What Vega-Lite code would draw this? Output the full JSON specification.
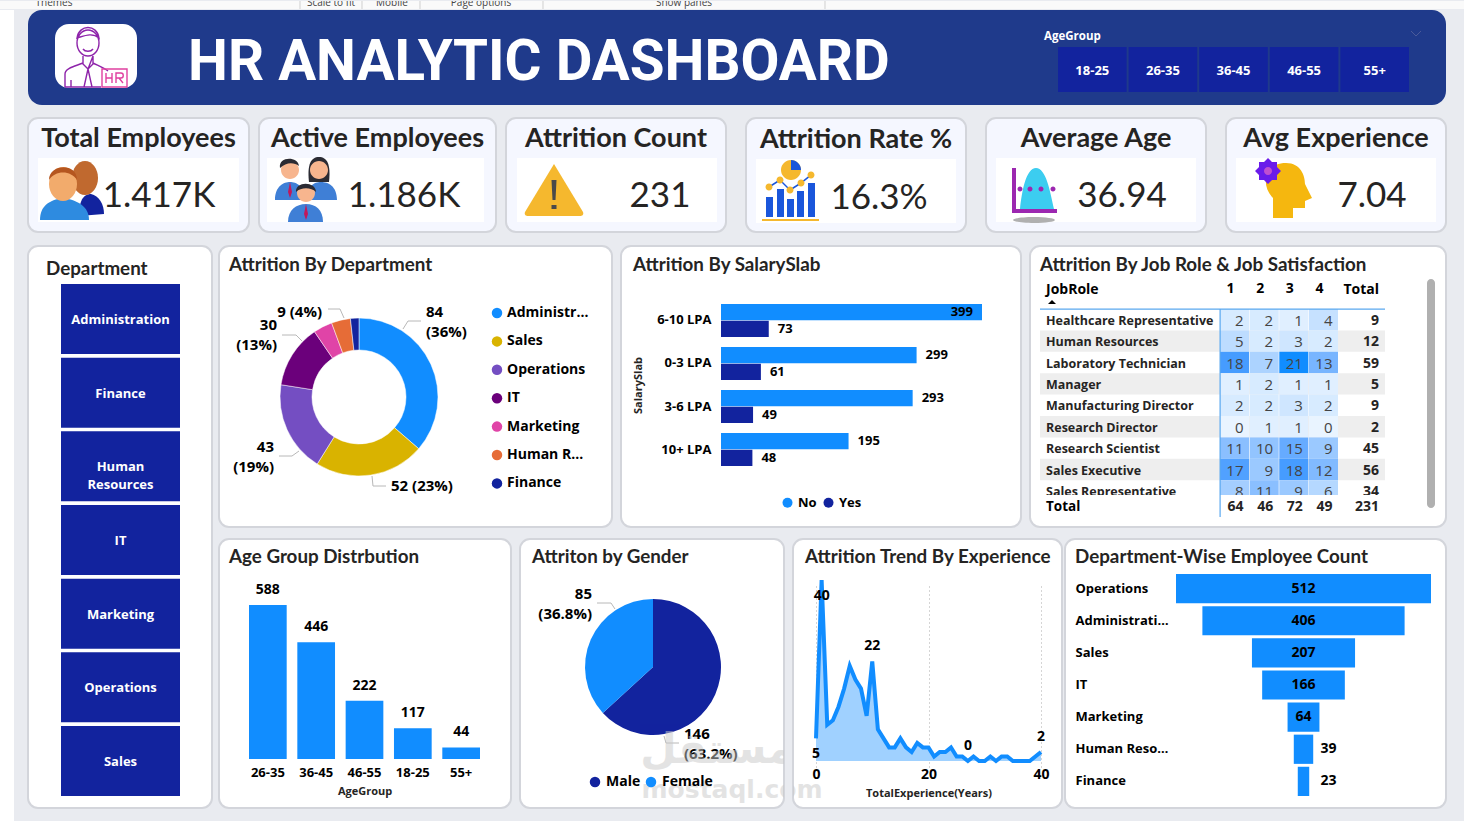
{
"$schema":"https://vega.github.io/schema/vega-lite/v6.json",
"padding":0,
"background":"#e9ebf0",
"config":{
 "view":{"stroke":null},
 "title":{"font":"Lato","fontWeight":"bold","fontSize":18.8,"color":"#252423","anchor":"start","frame":"group"},
 "axis":{"labelFont":"Open Sans","labelFontWeight":"bold","labelColor":"#000000","labelFontSize":13,"ticks":false,"domain":false,"grid":false,"titleFont":"Open Sans","titleFontWeight":"bold","titleFontSize":11,"titleColor":"#252423"},
 "legend":{"labelFont":"Open Sans","labelFontWeight":"bold","labelColor":"#000000","labelFontSize":14,"symbolType":"circle","symbolSize":110,"symbolStrokeWidth":0,"title":null},
 "text":{"font":"Open Sans","fontWeight":"bold","fontSize":14,"color":"#000000"}
},
"datasets":{
 "attrition":[
  {"chart":"donut","department":"Administration","count":84,"rank":1,"label":"84\n(36%)"},
  {"chart":"donut","department":"Sales","count":52,"rank":2,"label":"52 (23%)"},
  {"chart":"donut","department":"Operations","count":43,"rank":3,"label":"43\n(19%)"},
  {"chart":"donut","department":"IT","count":30,"rank":4,"label":"30\n(13%)"},
  {"chart":"donut","department":"Marketing","count":9,"rank":5},
  {"chart":"donut","department":"Human Resources","count":9,"rank":6,"label":"9 (4%)"},
  {"chart":"donut","department":"Finance","count":4,"rank":7}
 ],
 "salary":[
  {"slab":"6-10 LPA","attrition":"No","count":399},{"slab":"6-10 LPA","attrition":"Yes","count":73},
  {"slab":"0-3 LPA","attrition":"No","count":299},{"slab":"0-3 LPA","attrition":"Yes","count":61},
  {"slab":"3-6 LPA","attrition":"No","count":293},{"slab":"3-6 LPA","attrition":"Yes","count":49},
  {"slab":"10+ LPA","attrition":"No","count":195},{"slab":"10+ LPA","attrition":"Yes","count":48}
 ],
 "cells":[
  {"role":"Healthcare Representative","sat":"1","count":2},{"role":"Healthcare Representative","sat":"2","count":2},{"role":"Healthcare Representative","sat":"3","count":1},{"role":"Healthcare Representative","sat":"4","count":4},
  {"role":"Human Resources","sat":"1","count":5},{"role":"Human Resources","sat":"2","count":2},{"role":"Human Resources","sat":"3","count":3},{"role":"Human Resources","sat":"4","count":2},
  {"role":"Laboratory Technician","sat":"1","count":18},{"role":"Laboratory Technician","sat":"2","count":7},{"role":"Laboratory Technician","sat":"3","count":21},{"role":"Laboratory Technician","sat":"4","count":13},
  {"role":"Manager","sat":"1","count":1},{"role":"Manager","sat":"2","count":2},{"role":"Manager","sat":"3","count":1},{"role":"Manager","sat":"4","count":1},
  {"role":"Manufacturing Director","sat":"1","count":2},{"role":"Manufacturing Director","sat":"2","count":2},{"role":"Manufacturing Director","sat":"3","count":3},{"role":"Manufacturing Director","sat":"4","count":2},
  {"role":"Research Director","sat":"1","count":0},{"role":"Research Director","sat":"2","count":1},{"role":"Research Director","sat":"3","count":1},{"role":"Research Director","sat":"4","count":0},
  {"role":"Research Scientist","sat":"1","count":11},{"role":"Research Scientist","sat":"2","count":10},{"role":"Research Scientist","sat":"3","count":15},{"role":"Research Scientist","sat":"4","count":9},
  {"role":"Sales Executive","sat":"1","count":17},{"role":"Sales Executive","sat":"2","count":9},{"role":"Sales Executive","sat":"3","count":18},{"role":"Sales Executive","sat":"4","count":12},
  {"role":"Sales Representative","sat":"1","count":8},{"role":"Sales Representative","sat":"2","count":11},{"role":"Sales Representative","sat":"3","count":9},{"role":"Sales Representative","sat":"4","count":6}
 ],
 "roles":[
  {"role":"Healthcare Representative","total":9,"shaded":false},{"role":"Human Resources","total":12,"shaded":true},{"role":"Laboratory Technician","total":59,"shaded":false},
  {"role":"Manager","total":5,"shaded":true},{"role":"Manufacturing Director","total":9,"shaded":false},{"role":"Research Director","total":2,"shaded":true},
  {"role":"Research Scientist","total":45,"shaded":false},{"role":"Sales Executive","total":56,"shaded":true},{"role":"Sales Representative","total":34,"shaded":false}
 ],
 "ageGroups":[{"slicer":"AgeGroup","age":"18-25"},{"slicer":"AgeGroup","age":"26-35"},{"slicer":"AgeGroup","age":"36-45"},{"slicer":"AgeGroup","age":"46-55"},{"slicer":"AgeGroup","age":"55+"}],
 "watermark":[{"wm":"مستقل"},{"wm":"mostaql.com"}],
 "experience":[
  {"year":0,"count":5},{"year":1,"count":40},{"year":2,"count":8},{"year":3,"count":9},{"year":4,"count":12},{"year":5,"count":16},{"year":6,"count":21},{"year":7,"count":18},{"year":8,"count":16},{"year":9,"count":10},{"year":10,"count":22},
  {"year":11,"count":7},{"year":12,"count":5},{"year":13,"count":3},{"year":14,"count":3},{"year":15,"count":5},{"year":16,"count":3},{"year":17,"count":2},{"year":18,"count":4},{"year":19,"count":3},{"year":20,"count":3},
  {"year":21,"count":1},{"year":22,"count":2},{"year":23,"count":2},{"year":24,"count":3},{"year":25,"count":1},{"year":26,"count":1},{"year":27,"count":0},{"year":28,"count":1},{"year":29,"count":0},{"year":30,"count":0},
  {"year":31,"count":1},{"year":32,"count":0},{"year":33,"count":1},{"year":34,"count":1},{"year":35,"count":0},{"year":36,"count":0},{"year":37,"count":0},{"year":38,"count":0},{"year":39,"count":1},{"year":40,"count":2}
 ]
},
"resolve":{"scale":{"color":"independent","shape":"independent"}},
"vconcat":[
 {"width":1464,"height":8,"view":{"fill":"#fafafa"},
  "data":{"values":[
   {"kind":"label","item":"Themes","slot":1},{"kind":"sep","slot":2},{"kind":"label","item":"Scale to fit","slot":3},{"kind":"sep","slot":4},{"kind":"label","item":"Mobile","slot":5},{"kind":"sep","slot":6},{"kind":"label","item":"Page options","slot":7},{"kind":"sep","slot":8},{"kind":"label","item":"Show panes","slot":9},{"kind":"sep","slot":10}]},
  "encoding":{"x":{"field":"slot","type":"quantitative","scale":{"domain":[1,2,3,4,5,6,7,8,9,10],"range":[54,300,331,362,392,420,481,543,684,825],"nice":false,"zero":false},"axis":null}},
  "layer":[
   {"transform":[{"filter":"datum.kind === 'sep'"}],"mark":{"type":"rule","color":"#cfcfcf"}},
   {"transform":[{"filter":"datum.kind === 'label'"}],"mark":{"type":"text","clip":true,"fontSize":10,"fontWeight":"normal","color":"#444444","baseline":"middle"},
    "encoding":{"text":{"field":"item"},"y":{"field":"kind","type":"nominal","scale":{"type":"point","range":[2,2]},"axis":null}}}
  ]
 },
 {"resolve":{"scale":{"color":"independent","shape":"independent"}},"hconcat":[
  {"width":14,"height":811,"view":{"fill":"#ffffff"},"data":{"values":[{"part":"margin"}]},"mark":{"type":"rect","color":"#ffffff"}},
  {"resolve":{"scale":{"color":"independent","shape":"independent"}},"vconcat":[
   {"width":1418,"height":95,"view":{"fill":"#1f3a8b","cornerRadius":14},
    "title":{"text":"HR ANALYTIC DASHBOARD","color":"#ffffff","font":"Roboto","fontSize":56.5,"dx":160,"offset":-81},
    "resolve":{"scale":{"x":"independent","y":"independent"}},
    "layer":[
     {"data":{"values":[{"part":"logo"}]},"mark":{"type":"rect","color":"#ffffff","cornerRadius":14},
      "encoding":{"x":{"field":"part","type":"nominal","scale":{"type":"band","range":[27,109],"paddingInner":0,"paddingOuter":0},"axis":null},"y":{"field":"part","type":"nominal","scale":{"type":"band","range":[14,78],"paddingInner":0,"paddingOuter":0},"axis":null}}},
     {"data":{"values":[{"part":"logo","piece":"person"},{"part":"logo","piece":"badge"}]},"mark":{"type":"point","filled":false,"size":4,"opacity":1,"strokeWidth":1.4},
      "encoding":{"x":{"field":"part","type":"nominal","scale":{"type":"band","range":[27,109],"paddingInner":0,"paddingOuter":0},"axis":null},"y":{"field":"part","type":"nominal","scale":{"type":"band","range":[14,78],"paddingInner":0,"paddingOuter":0},"axis":null},
       "shape":{"field":"piece","type":"nominal","legend":null,"scale":{"domain":["person","badge"],"range":["M-19,-13A11,13 0 1 1 3,-13A11,13 0 1 1 -19,-13ZM-19,-18C-17,-32 1,-32 3,-18C-4,-24 -12,-20 -19,-18ZM-13,-7C-11,-4 -5,-4 -3,-7M-13,0L-13,8L-8,13L-3,0M-3,0L-3,8L-8,13M-31,31L-31,18C-31,12 -20,10 -13,7M-3,7C3,10 8,12 12,15M-8,13L-12,31M-8,13L-4,31M-25,24L-25,31M-31,31L5,31","M6,13L31,13L31,31L6,31ZM10,17L10,27M10,22L16,22M16,17L16,27M20,27L20,17L25,17C28,17 28,22 25,22L20,22M23,22L27,27"]}},
       "color":{"field":"piece","type":"nominal","legend":null,"scale":{"domain":["person","badge"],"range":["#8e24aa","#e040a0"]}}}},
     {"data":{"name":"ageGroups"},"mark":{"type":"rect","color":"#12239e"},
      "encoding":{"x":{"field":"age","type":"nominal","scale":{"type":"band","range":[1030,1381],"paddingInner":0.028,"paddingOuter":0},"axis":null},"y":{"field":"slicer","type":"nominal","scale":{"type":"band","range":[37,82],"paddingInner":0,"paddingOuter":0},"axis":null}}},
     {"data":{"name":"ageGroups"},"mark":{"type":"text","color":"#ffffff","fontSize":13,"baseline":"middle","dy":1},
      "encoding":{"text":{"field":"age"},"x":{"field":"age","type":"nominal","scale":{"type":"band","range":[1030,1381],"paddingInner":0.028,"paddingOuter":0},"axis":null},"y":{"field":"slicer","type":"nominal","scale":{"type":"band","range":[37,82],"paddingInner":0,"paddingOuter":0},"axis":null}}},
     {"data":{"values":[{"name":"AgeGroup"}]},"mark":{"type":"text","color":"#ffffff","fontSize":11.5,"align":"left","baseline":"middle"},
      "encoding":{"text":{"field":"name"},"x":{"field":"name","type":"nominal","scale":{"type":"point","range":[1016,1016]},"axis":null},"y":{"field":"name","type":"nominal","scale":{"type":"point","range":[27,27]},"axis":null}}},
     {"data":{"values":[{"name":"dropdown"}]},"mark":{"type":"point","filled":false,"size":4,"opacity":1,"strokeWidth":1,"color":"#4a5a9a","shape":"M-5,-3L0,2L5,-3"},
      "encoding":{"x":{"field":"name","type":"nominal","scale":{"type":"point","range":[1388,1388]},"axis":null},"y":{"field":"name","type":"nominal","scale":{"type":"point","range":[24,24]},"axis":null}}}
    ]
   },
   {"resolve":{"scale":{"color":"independent","shape":"independent"}},"hconcat":[
    {"resolve":{"scale":{"color":"independent","shape":"independent"}},"hconcat":[
     {"width":221,"height":114,"view":{"fill":"#f5f7ff","stroke":"#d3d5db","strokeWidth":2,"cornerRadius":10},
      "title":{"text":"Total Employees","fontSize":27,"anchor":"middle","offset":-35},
      "resolve":{"scale":{"x":"independent","y":"independent"}},
      "layer":[
       {"data":{"values":[{"kpi":"Total Employees"}]},"mark":{"type":"rect","color":"#ffffff"},"encoding":{"x":{"field":"kpi","type":"nominal","scale":{"type":"band","range":[10,211],"paddingInner":0,"paddingOuter":0},"axis":null},"y":{"field":"kpi","type":"nominal","scale":{"type":"band","range":[40,104],"paddingInner":0,"paddingOuter":0},"axis":null}}},
       {"data":{"values":[{"icon":"people","part":"backBody"},{"icon":"people","part":"backHead"},{"icon":"people","part":"frontBody"},{"icon":"people","part":"frontHead"},{"icon":"people","part":"hair"}]},"mark":{"type":"point","filled":true,"size":4,"opacity":1,"strokeWidth":0},
        "encoding":{"x":{"field":"icon","type":"nominal","scale":{"type":"point","range":[43,43]},"axis":null},"y":{"field":"icon","type":"nominal","scale":{"type":"point","range":[72,72]},"axis":null},
         "shape":{"field":"part","type":"nominal","legend":null,"scale":{"domain":["backBody","backHead","frontBody","frontHead","hair"],"range":["M8,26C8,8 14,4 20,4C28,6 33,14 33,24Z","M1,-12A13,17 0 1 1 27,-12A13,17 0 1 1 1,-12Z","M-31,30C-31,16 -22,10 -8,8C6,10 18,16 18,30Z","M-22,-6A14,17 0 1 1 6,-6A14,17 0 1 1 -22,-6Z","M-22,-10C-22,-26 6,-28 6,-10C0,-20 -16,-20 -22,-10Z"]}},
         "color":{"field":"part","type":"nominal","legend":null,"scale":{"domain":["backBody","backHead","frontBody","frontHead","hair"],"range":["#12239e","#c0692f","#2e8be0","#f2ab6c","#b5561f"]}}}},
       {"data":{"values":[{"value":"1.417K"}]},"mark":{"type":"text","font":"Lato","fontWeight":"normal","fontSize":35,"color":"#252423","baseline":"middle"},"encoding":{"text":{"field":"value"},"x":{"field":"value","type":"nominal","scale":{"type":"point","range":[131,131]},"axis":null},"y":{"field":"value","type":"nominal","scale":{"type":"point","range":[78,78]},"axis":null}}}
      ]},
     {"width":237,"height":114,"view":{"fill":"#f5f7ff","stroke":"#d3d5db","strokeWidth":2,"cornerRadius":10},
      "title":{"text":"Active Employees","fontSize":27,"anchor":"middle","offset":-35},
      "resolve":{"scale":{"x":"independent","y":"independent"}},
      "layer":[
       {"data":{"values":[{"kpi":"Active Employees"}]},"mark":{"type":"rect","color":"#ffffff"},"encoding":{"x":{"field":"kpi","type":"nominal","scale":{"type":"band","range":[8,225],"paddingInner":0,"paddingOuter":0},"axis":null},"y":{"field":"kpi","type":"nominal","scale":{"type":"band","range":[40,104],"paddingInner":0,"paddingOuter":0},"axis":null}}},
       {"data":{"values":[{"icon":"team","part":"bodies"},{"icon":"team","part":"womanHair"},{"icon":"team","part":"faces"},{"icon":"team","part":"hair"},{"icon":"team","part":"frontBody"},{"icon":"team","part":"frontFace"},{"icon":"team","part":"frontHair"},{"icon":"team","part":"ties"}]},"mark":{"type":"point","filled":true,"size":4,"opacity":1,"strokeWidth":0},
        "encoding":{"x":{"field":"icon","type":"nominal","scale":{"type":"point","range":[47,47]},"axis":null},"y":{"field":"icon","type":"nominal","scale":{"type":"point","range":[72,72]},"axis":null},
         "shape":{"field":"part","type":"nominal","legend":null,"scale":{"domain":["bodies","womanHair","faces","hair","frontBody","frontFace","frontHair","ties"],"range":["M-31,10C-31,-4 -22,-8 -16,-8C-10,-8 -1,-4 -1,10ZM1,10C1,-4 8,-8 15,-8C22,-8 31,-4 31,10Z","M3,-8C1,-26 5,-33 13,-33C21,-33 25,-26 23,-8Z","M-25,-20A9,9 0 1 1 -7,-20A9,9 0 1 1 -25,-20ZM4,-20A9,9 0 1 1 22,-20A9,9 0 1 1 4,-20Z","M-26,-22C-28,-34 -8,-34 -7,-24C-12,-28 -20,-28 -26,-22Z","M-18,32C-18,20 -10,14 0,14C10,14 17,20 17,32Z","M-9,3A9,9 0 1 1 9,3A9,9 0 1 1 -9,3Z","M-10,2C-11,-9 10,-9 10,2C5,-3 -5,-3 -10,2Z","M-16,-8L-14,2L-16,8L-18,2ZM0,14L2,24L0,30L-2,24Z"]}},
         "color":{"field":"part","type":"nominal","legend":null,"scale":{"domain":["bodies","womanHair","faces","hair","frontBody","frontFace","frontHair","ties"],"range":["#3f7fd6","#2b2b33","#f7b58e","#2b2b33","#3f7fd6","#f7b58e","#2b2b33","#c2185b"]}}}},
       {"data":{"values":[{"value":"1.186K"}]},"mark":{"type":"text","font":"Lato","fontWeight":"normal","fontSize":35,"color":"#252423","baseline":"middle"},"encoding":{"text":{"field":"value"},"x":{"field":"value","type":"nominal","scale":{"type":"point","range":[145,145]},"axis":null},"y":{"field":"value","type":"nominal","scale":{"type":"point","range":[78,78]},"axis":null}}}
      ]},
     {"width":220,"height":114,"view":{"fill":"#f5f7ff","stroke":"#d3d5db","strokeWidth":2,"cornerRadius":10},
      "title":{"text":"Attrition Count","fontSize":27,"anchor":"middle","offset":-35},
      "resolve":{"scale":{"x":"independent","y":"independent"}},
      "layer":[
       {"data":{"values":[{"kpi":"Attrition Count"}]},"mark":{"type":"rect","color":"#ffffff"},"encoding":{"x":{"field":"kpi","type":"nominal","scale":{"type":"band","range":[11,211],"paddingInner":0,"paddingOuter":0},"axis":null},"y":{"field":"kpi","type":"nominal","scale":{"type":"band","range":[40,104],"paddingInner":0,"paddingOuter":0},"axis":null}}},
       {"data":{"values":[{"icon":"warning","part":"triangle"},{"icon":"warning","part":"bang"}]},"mark":{"type":"point","filled":true,"size":4,"opacity":1,"strokeWidth":0},
        "encoding":{"x":{"field":"icon","type":"nominal","scale":{"type":"point","range":[48,48]},"axis":null},"y":{"field":"icon","type":"nominal","scale":{"type":"point","range":[72,72]},"axis":null},
         "shape":{"field":"part","type":"nominal","legend":null,"scale":{"domain":["triangle","bang"],"range":["M0,-26L29,22C30,25 28,26 26,26L-26,26C-28,26 -30,25 -29,22Z","M-2.5,-10L2.5,-10L1.5,10L-1.5,10ZM-2.5,15L2.5,15L2.5,19L-2.5,19Z"]}},
         "color":{"field":"part","type":"nominal","legend":null,"scale":{"domain":["triangle","bang"],"range":["#f5b82e","#4a4a4a"]}}}},
       {"data":{"values":[{"value":"231"}]},"mark":{"type":"text","font":"Lato","fontWeight":"normal","fontSize":35,"color":"#252423","baseline":"middle"},"encoding":{"text":{"field":"value"},"x":{"field":"value","type":"nominal","scale":{"type":"point","range":[154,154]},"axis":null},"y":{"field":"value","type":"nominal","scale":{"type":"point","range":[78,78]},"axis":null}}}
      ]}
    ],"spacing":8},
    {"width":220,"height":114,"view":{"fill":"#f5f7ff","stroke":"#d3d5db","strokeWidth":2,"cornerRadius":10},
     "title":{"text":"Attrition Rate %","fontSize":27,"anchor":"middle","offset":-36},
     "resolve":{"scale":{"x":"independent","y":"independent"}},
     "layer":[
      {"data":{"values":[{"kpi":"Attrition Rate %"}]},"mark":{"type":"rect","color":"#ffffff"},"encoding":{"x":{"field":"kpi","type":"nominal","scale":{"type":"band","range":[10,210],"paddingInner":0,"paddingOuter":0},"axis":null},"y":{"field":"kpi","type":"nominal","scale":{"type":"band","range":[41,105],"paddingInner":0,"paddingOuter":0},"axis":null}}},
      {"data":{"values":[{"icon":"rate","part":"bars"},{"icon":"rate","part":"line"},{"icon":"rate","part":"gold"},{"icon":"rate","part":"slice"}]},"mark":{"type":"point","filled":true,"size":4,"opacity":1,"strokeWidth":0},
       "encoding":{"x":{"field":"icon","type":"nominal","scale":{"type":"point","range":[44,44]},"axis":null},"y":{"field":"icon","type":"nominal","scale":{"type":"point","range":[73,73]},"axis":null},
        "shape":{"field":"part","type":"nominal","legend":null,"scale":{"domain":["bars","line","gold","slice"],"range":["M-24,6L-17,6L-17,26L-24,26ZM-13,-2L-6,-2L-6,26L-13,26ZM-3,8L4,8L4,26L-3,26ZM7,0L14,0L14,26L7,26ZM18,-8L25,-8L25,26L18,26Z","M-21,-5L-10,-12L0,-2L11,-9L21,-17L21,-15L11,-7L0,0L-10,-10L-21,-3Z","M-28,28L29,28L29,30L-28,30ZM-9,-21A10,10 0 1 1 11,-21A10,10 0 1 1 -9,-21ZM-24.5,-4A3.5,3.5 0 1 1 -17.5,-4A3.5,3.5 0 1 1 -24.5,-4ZM-13.5,-11A3.5,3.5 0 1 1 -6.5,-11A3.5,3.5 0 1 1 -13.5,-11ZM-3.5,-1A3.5,3.5 0 1 1 3.5,-1A3.5,3.5 0 1 1 -3.5,-1ZM7.5,-8A3.5,3.5 0 1 1 14.5,-8A3.5,3.5 0 1 1 7.5,-8ZM17.5,-16A3.5,3.5 0 1 1 24.5,-16A3.5,3.5 0 1 1 17.5,-16Z","M1,-21L1,-31A10,10 0 0 1 11,-21Z"]}},
        "color":{"field":"part","type":"nominal","legend":null,"scale":{"domain":["bars","line","gold","slice"],"range":["#1a56db","#1a56db","#f5b82e","#1a56db"]}}}},
      {"data":{"values":[{"value":"16.3%"}]},"mark":{"type":"text","font":"Lato","fontWeight":"normal","fontSize":35,"color":"#252423","baseline":"middle"},"encoding":{"text":{"field":"value"},"x":{"field":"value","type":"nominal","scale":{"type":"point","range":[133,133]},"axis":null},"y":{"field":"value","type":"nominal","scale":{"type":"point","range":[80,80]},"axis":null}}}
     ]},
    {"width":220,"height":114,"view":{"fill":"#f5f7ff","stroke":"#d3d5db","strokeWidth":2,"cornerRadius":10},
     "title":{"text":"Average Age","fontSize":27,"anchor":"middle","offset":-35},
     "resolve":{"scale":{"x":"independent","y":"independent"}},
     "layer":[
      {"data":{"values":[{"kpi":"Average Age"}]},"mark":{"type":"rect","color":"#ffffff"},"encoding":{"x":{"field":"kpi","type":"nominal","scale":{"type":"band","range":[10,210],"paddingInner":0,"paddingOuter":0},"axis":null},"y":{"field":"kpi","type":"nominal","scale":{"type":"band","range":[40,104],"paddingInner":0,"paddingOuter":0},"axis":null}}},
      {"data":{"values":[{"icon":"age","part":"shadow"},{"icon":"age","part":"bell"},{"icon":"age","part":"axes"}]},"mark":{"type":"point","filled":true,"size":4,"opacity":1,"strokeWidth":0},
       "encoding":{"x":{"field":"icon","type":"nominal","scale":{"type":"point","range":[48,48]},"axis":null},"y":{"field":"icon","type":"nominal","scale":{"type":"point","range":[77,77]},"axis":null},
        "shape":{"field":"part","type":"nominal","legend":null,"scale":{"domain":["shadow","bell","axes"],"range":["M-21,25A21,3 0 1 1 21,25A21,3 0 1 1 -21,25Z","M-14,14C-12,-4 -8,-27 2,-27C12,-27 16,-4 20,14Z","M-22,-27L-18,-27L-18,14L23,14L23,18L-22,18ZM-16.5,-6A2.5,2.5 0 1 1 -11.5,-6A2.5,2.5 0 1 1 -16.5,-6ZM-6.5,-6A2.5,2.5 0 1 1 -1.5,-6A2.5,2.5 0 1 1 -6.5,-6ZM4.5,-6A2.5,2.5 0 1 1 9.5,-6A2.5,2.5 0 1 1 4.5,-6ZM16.5,-6A2.5,2.5 0 1 1 21.5,-6A2.5,2.5 0 1 1 16.5,-6Z"]}},
        "color":{"field":"part","type":"nominal","legend":null,"scale":{"domain":["shadow","bell","axes"],"range":["#b0b0b0","#3ccdf0","#9c27b0"]}}}},
      {"data":{"values":[{"value":"36.94"}]},"mark":{"type":"text","font":"Lato","fontWeight":"normal","fontSize":35,"color":"#252423","baseline":"middle"},"encoding":{"text":{"field":"value"},"x":{"field":"value","type":"nominal","scale":{"type":"point","range":[136,136]},"axis":null},"y":{"field":"value","type":"nominal","scale":{"type":"point","range":[78,78]},"axis":null}}}
     ]},
    {"width":220,"height":114,"view":{"fill":"#f5f7ff","stroke":"#d3d5db","strokeWidth":2,"cornerRadius":10},
     "title":{"text":"Avg Experience","fontSize":27,"anchor":"middle","offset":-35},
     "resolve":{"scale":{"x":"independent","y":"independent"}},
     "layer":[
      {"data":{"values":[{"kpi":"Avg Experience"}]},"mark":{"type":"rect","color":"#ffffff"},"encoding":{"x":{"field":"kpi","type":"nominal","scale":{"type":"band","range":[10,210],"paddingInner":0,"paddingOuter":0},"axis":null},"y":{"field":"kpi","type":"nominal","scale":{"type":"band","range":[40,104],"paddingInner":0,"paddingOuter":0},"axis":null}}},
      {"data":{"values":[{"icon":"mind","part":"head"},{"icon":"mind","part":"gear"},{"icon":"mind","part":"hub"}]},"mark":{"type":"point","filled":true,"size":4,"opacity":1,"strokeWidth":0},
       "encoding":{"x":{"field":"icon","type":"nominal","scale":{"type":"point","range":[57,57]},"axis":null},"y":{"field":"icon","type":"nominal","scale":{"type":"point","range":[70,70]},"axis":null},
        "shape":{"field":"part","type":"nominal","legend":null,"scale":{"domain":["head","gear","hub"],"range":["M-10,30L-10,10C-22,-2 -20,-25 3,-25C18,-25 22,-12 22,-4L29,10L22,13L22,20L10,20L10,30Z","M-15,-30L-2,-17L-15,-4L-28,-17ZM-24,-26L-6,-26L-6,-8L-24,-8Z","M-19,-17A4,4 0 1 1 -11,-17A4,4 0 1 1 -19,-17Z"]}},
        "color":{"field":"part","type":"nominal","legend":null,"scale":{"domain":["head","gear","hub"],"range":["#f5b70f","#6a1bea","#c04fd0"]}}}},
      {"data":{"values":[{"value":"7.04"}]},"mark":{"type":"text","font":"Lato","fontWeight":"normal","fontSize":35,"color":"#252423","baseline":"middle"},"encoding":{"text":{"field":"value"},"x":{"field":"value","type":"nominal","scale":{"type":"point","range":[146,146]},"axis":null},"y":{"field":"value","type":"nominal","scale":{"type":"point","range":[78,78]},"axis":null}}}
     ]}
   ],"spacing":18},
   {"resolve":{"scale":{"color":"independent","shape":"independent"}},"hconcat":[
    {"width":184,"height":562,"view":{"fill":"#ffffff","stroke":"#d3d5db","strokeWidth":2,"cornerRadius":10},
     "title":{"text":"Department","dx":18,"offset":-33},
     "data":{"values":[{"slicer":"Department","department":"Administration"},{"slicer":"Department","department":"Finance"},{"slicer":"Department","department":"Human\nResources"},{"slicer":"Department","department":"IT"},{"slicer":"Department","department":"Marketing"},{"slicer":"Department","department":"Operations"},{"slicer":"Department","department":"Sales"}]},
     "encoding":{
      "x":{"field":"slicer","type":"nominal","scale":{"type":"band","range":[33,152],"paddingInner":0,"paddingOuter":0},"axis":null},
      "y":{"field":"department","type":"nominal","sort":null,"scale":{"type":"band","range":[38,550],"paddingInner":0.05,"paddingOuter":0},"axis":null}},
     "layer":[
      {"mark":{"type":"rect","color":"#12239e"}},
      {"mark":{"type":"text","color":"#ffffff","fontSize":13,"baseline":"middle","lineBreak":"\n","lineHeight":18,"dy":1},"encoding":{"text":{"field":"department"}}}
     ]},
    {"resolve":{"scale":{"color":"independent","shape":"independent"}},"vconcat":[
     {"resolve":{"scale":{"color":"independent","shape":"independent"}},"hconcat":[
      {"width":393,"height":281,"view":{"fill":"#ffffff","stroke":"#d3d5db","strokeWidth":2,"cornerRadius":10},
       "title":{"text":"Attrition By Department","dx":10,"offset":-29},
       "resolve":{"scale":{"x":"independent","y":"independent"}},
       "layer":[
        {"data":{"name":"attrition"},"mark":{"type":"arc","outerRadius":79,"innerRadius":47,"stroke":"#ffffff","strokeWidth":0.5},
         "encoding":{"x":{"field":"chart","type":"nominal","scale":{"type":"band","range":[100,180]},"axis":null},"y":{"field":"chart","type":"nominal","scale":{"type":"band","range":[111,191]},"axis":null},
          "theta":{"field":"count","type":"quantitative","stack":true},"order":{"field":"rank"},
          "color":{"field":"department","type":"nominal","sort":null,"scale":{"domain":["Administration","Sales","Operations","IT","Marketing","Human Resources","Finance"],"range":["#118dff","#d9b300","#744ec2","#6b007b","#e044a7","#e66c37","#12239e"]},
           "legend":{"orient":"none","legendX":271,"legendY":60,"labelLimit":84,"rowPadding":14.4,"labelOffset":3}}}},
        {"data":{"values":[{"chart":"donut"}]},"mark":{"type":"point","filled":false,"size":4,"opacity":1,"strokeWidth":1,"color":"#b8b8b8","shape":"M44,-68L49,-76L62,-76M13,79L14,89L27,89M-60,54L-67,59L-80,59M-57,-56L-63,-62L-77,-62M-15,-79L-19,-88L-31,-88"},
         "encoding":{"x":{"field":"chart","type":"nominal","scale":{"type":"band","range":[100,180]},"axis":null},"y":{"field":"chart","type":"nominal","scale":{"type":"band","range":[111,191]},"axis":null}}},
        {"data":{"name":"attrition"},"transform":[{"filter":"datum.rank <= 2"}],"mark":{"type":"text","fontSize":15,"align":"left","baseline":"middle","lineBreak":"\n","lineHeight":20},
         "encoding":{"text":{"field":"label"},"x":{"field":"rank","type":"quantitative","scale":{"domain":[1,2],"range":[207,172],"nice":false,"zero":false},"axis":null},"y":{"field":"rank","type":"quantitative","scale":{"domain":[1,2],"range":[66,240],"nice":false,"zero":false},"axis":null}}},
        {"data":{"name":"attrition"},"transform":[{"filter":"datum.label && datum.rank > 2"}],"mark":{"type":"text","fontSize":15,"align":"right","baseline":"middle","lineBreak":"\n","lineHeight":20},
         "encoding":{"text":{"field":"label"},"x":{"field":"rank","type":"quantitative","scale":{"domain":[3,4,6],"range":[55,58,103],"nice":false,"zero":false},"axis":null},"y":{"field":"rank","type":"quantitative","scale":{"domain":[3,4,6],"range":[201,79,66],"nice":false,"zero":false},"axis":null}}}
       ]},
      {"width":400,"height":281,"view":{"fill":"#ffffff","stroke":"#d3d5db","strokeWidth":2,"cornerRadius":10},
       "title":{"text":"Attrition By SalarySlab","dx":12,"offset":-29},
       "data":{"name":"salary"},
       "encoding":{
        "y":{"field":"slab","type":"nominal","sort":null,"title":"SalarySlab","scale":{"type":"band","range":[58,220],"paddingInner":0.2326,"paddingOuter":0},"axis":{"orient":"left","offset":-96,"labelPadding":6,"titleX":-74,"titleFontSize":11}},
        "yOffset":{"field":"attrition","type":"nominal","sort":null,"scale":{"paddingInner":0.03}},
        "x":{"field":"count","type":"quantitative","scale":{"domain":[0,399],"range":[100,361],"nice":false},"axis":null}},
       "layer":[
        {"mark":{"type":"bar"},"encoding":{"color":{"field":"attrition","type":"nominal","sort":null,"scale":{"domain":["No","Yes"],"range":["#118dff","#12239e"]},"legend":{"orient":"none","direction":"horizontal","legendX":160,"legendY":250,"columnPadding":5,"symbolSize":100,"labelFontSize":13}}}},
        {"transform":[{"filter":"datum.count < 399"}],"mark":{"type":"text","align":"left","baseline":"middle","dx":9,"fontSize":13},"encoding":{"text":{"field":"count","type":"quantitative"}}},
        {"transform":[{"filter":"datum.count === 399"}],"mark":{"type":"text","align":"right","baseline":"middle","dx":-9,"fontSize":13},"encoding":{"text":{"field":"count","type":"quantitative"}}}
       ]},
      {"width":416,"height":281,"view":{"fill":"#ffffff","stroke":"#d3d5db","strokeWidth":2,"cornerRadius":10},
       "title":{"text":"Attrition By Job Role & Job Satisfaction","dx":10,"offset":-29},
       "resolve":{"scale":{"x":"independent","y":"independent","color":"independent"}},
       "encoding":{"y":{"field":"role","type":"nominal","scale":{"type":"band","domain":["Healthcare Representative","Human Resources","Laboratory Technician","Manager","Manufacturing Director","Research Director","Research Scientist","Sales Executive","Sales Representative"],"range":[63,255.6],"paddingInner":0,"paddingOuter":0},"axis":null}},
       "layer":[
        {"data":{"name":"roles"},"transform":[{"filter":"datum.shaded"}],"mark":{"type":"rect","color":"#eeeeee"},"encoding":{"x":{"field":"shaded","type":"nominal","scale":{"type":"band","range":[10,355],"paddingInner":0,"paddingOuter":0},"axis":null}}},
        {"data":{"name":"cells"},"mark":{"type":"rect"},
         "encoding":{"x":{"field":"sat","type":"nominal","scale":{"type":"band","domain":["1","2","3","4"],"range":[190,308],"paddingInner":0.02,"paddingOuter":0},"axis":{"orient":"top","offset":-52,"labelAngle":0,"labelPadding":3,"labelFontSize":14,"labelOffset":-4,"title":null}},
          "color":{"field":"count","type":"quantitative","legend":null,"scale":{"domain":[0,21],"range":["#e9f4ff","#118dff"]}}}},
        {"data":{"name":"cells"},"mark":{"type":"text","align":"right","baseline":"middle","dx":9,"dy":1,"fontWeight":"normal","fontSize":15,"color":"#444444"},
         "encoding":{"text":{"field":"count","type":"quantitative"},"x":{"field":"sat","type":"nominal","scale":{"type":"band","domain":["1","2","3","4"],"range":[190,308],"paddingInner":0.02,"paddingOuter":0},"axis":null}}},
        {"data":{"name":"roles"},"mark":{"type":"text","align":"left","baseline":"middle","dy":1,"fontSize":12.5,"color":"#252423"},
         "encoding":{"text":{"field":"role"},"x":{"field":"role","type":"nominal","scale":{"type":"point","range":[16,16]},"axis":null}}},
        {"data":{"name":"roles"},"mark":{"type":"text","align":"right","baseline":"middle","dy":1,"fontSize":14,"color":"#252423"},
         "encoding":{"text":{"field":"total","type":"quantitative"},"x":{"field":"role","type":"nominal","scale":{"type":"point","range":[349,349]},"axis":null}}},
        {"data":{"values":[{"part":"cover"}]},"mark":{"type":"rect","color":"#ffffff"},
         "encoding":{"x":{"field":"part","type":"nominal","scale":{"type":"band","range":[10,355],"paddingInner":0,"paddingOuter":0},"axis":null},"y":{"field":"part","type":"nominal","scale":{"type":"band","range":[249,275],"paddingInner":0,"paddingOuter":0},"axis":null}}},
        {"data":{"values":[{"part":"rowline"}]},"mark":{"type":"rect","color":"#5aa8ef"},
         "encoding":{"x":{"field":"part","type":"nominal","scale":{"type":"band","range":[189.5,190.7],"paddingInner":0,"paddingOuter":0},"axis":null},"y":{"field":"part","type":"nominal","scale":{"type":"band","range":[63,271],"paddingInner":0,"paddingOuter":0},"axis":null}}},
        {"data":{"values":[{"part":"headline"}]},"mark":{"type":"rect","color":"#5aa8ef"},
         "encoding":{"x":{"field":"part","type":"nominal","scale":{"type":"band","range":[10,355],"paddingInner":0,"paddingOuter":0},"axis":null},"y":{"field":"part","type":"nominal","scale":{"type":"band","range":[62.5,63.7],"paddingInner":0,"paddingOuter":0},"axis":null}}},
        {"data":{"values":[{"part":"scrollbar"}]},"mark":{"type":"rect","color":"#b0b0b0","cornerRadius":4},
         "encoding":{"x":{"field":"part","type":"nominal","scale":{"type":"band","range":[397,405],"paddingInner":0,"paddingOuter":0},"axis":null},"y":{"field":"part","type":"nominal","scale":{"type":"band","range":[33,262],"paddingInner":0,"paddingOuter":0},"axis":null}}},
        {"data":{"values":[{"head":"JobRole"}]},"mark":{"type":"text","align":"left","baseline":"middle"},
         "encoding":{"text":{"field":"head"},"x":{"field":"head","type":"nominal","scale":{"type":"point","range":[16,16]},"axis":null},"y":{"field":"head","type":"nominal","scale":{"type":"point","range":[44,44]},"axis":null}}},
        {"data":{"values":[{"head":"Total"}]},"mark":{"type":"text","align":"right","baseline":"middle"},
         "encoding":{"text":{"field":"head"},"x":{"field":"head","type":"nominal","scale":{"type":"point","range":[349,349]},"axis":null},"y":{"field":"head","type":"nominal","scale":{"type":"point","range":[44,44]},"axis":null}}},
        {"data":{"values":[{"head":"sort"}]},"mark":{"type":"point","filled":true,"size":4,"opacity":1,"strokeWidth":0,"color":"#000000","shape":"M-4,2L0,-2L4,2Z"},
         "encoding":{"x":{"field":"head","type":"nominal","scale":{"type":"point","range":[22,22]},"axis":null},"y":{"field":"head","type":"nominal","scale":{"type":"point","range":[56,56]},"axis":null}}},
        {"data":{"values":[{"row":"Total"}]},"mark":{"type":"text","align":"left","baseline":"middle","fontSize":13.5},
         "encoding":{"text":{"field":"row"},"x":{"field":"row","type":"nominal","scale":{"type":"point","range":[16,16]},"axis":null},"y":{"field":"row","type":"nominal","scale":{"type":"point","range":[261,261]},"axis":null}}},
        {"data":{"values":[{"row":"Total","sat":"1","count":64},{"row":"Total","sat":"2","count":46},{"row":"Total","sat":"3","count":72},{"row":"Total","sat":"4","count":49}]},"mark":{"type":"text","align":"right","baseline":"middle","dx":9,"color":"#252423"},
         "encoding":{"text":{"field":"count","type":"quantitative"},"x":{"field":"sat","type":"nominal","scale":{"type":"band","domain":["1","2","3","4"],"range":[190,308],"paddingInner":0.02,"paddingOuter":0},"axis":null},"y":{"field":"row","type":"nominal","scale":{"type":"point","range":[261,261]},"axis":null}}},
        {"data":{"values":[{"row":"Total","count":231}]},"mark":{"type":"text","align":"right","baseline":"middle","color":"#252423"},
         "encoding":{"text":{"field":"count","type":"quantitative"},"x":{"field":"row","type":"nominal","scale":{"type":"point","range":[349,349]},"axis":null},"y":{"field":"row","type":"nominal","scale":{"type":"point","range":[261,261]},"axis":null}}}
       ]}
     ],"spacing":7},
     {"resolve":{"scale":{"color":"independent","shape":"independent"}},"hconcat":[
      {"resolve":{"scale":{"color":"independent","shape":"independent"}},"hconcat":[
       {"width":292,"height":269,"view":{"fill":"#ffffff","stroke":"#d3d5db","strokeWidth":2,"cornerRadius":10},
        "title":{"text":"Age Group Distrbution","dx":10,"offset":-28},
        "data":{"values":[{"age":"26-35","count":588},{"age":"36-45","count":446},{"age":"46-55","count":222},{"age":"18-25","count":117},{"age":"55+","count":44}]},
        "encoding":{
         "x":{"field":"age","type":"nominal","sort":null,"title":"AgeGroup","scale":{"type":"band","range":[30,261],"paddingInner":0.22,"paddingOuter":0},"axis":{"orient":"bottom","offset":-49,"labelAngle":0,"labelPadding":7,"titlePadding":6}},
         "y":{"field":"count","type":"quantitative","scale":{"domain":[0,588],"range":[220,66],"nice":false},"axis":null}},
        "layer":[
         {"mark":{"type":"bar","color":"#118dff"}},
         {"mark":{"type":"text","baseline":"middle","dy":-15},"encoding":{"text":{"field":"count","type":"quantitative"}}}
        ]},
       {"width":264,"height":269,"view":{"fill":"#ffffff","stroke":"#d3d5db","strokeWidth":2,"cornerRadius":10},
        "title":{"text":"Attriton by Gender","dx":12,"offset":-28},
        "resolve":{"scale":{"x":"independent","y":"independent"}},
        "layer":[
         {"data":{"values":[{"chart":"pie","gender":"Male","count":146,"rank":1},{"chart":"pie","gender":"Female","count":85,"rank":2}]},"mark":{"type":"arc","outerRadius":68},
          "encoding":{"x":{"field":"chart","type":"nominal","scale":{"type":"band","range":[93,173]},"axis":null},"y":{"field":"chart","type":"nominal","scale":{"type":"band","range":[88,168]},"axis":null},
           "theta":{"field":"count","type":"quantitative","stack":true},"order":{"field":"rank"},
           "color":{"field":"gender","type":"nominal","sort":null,"scale":{"domain":["Male","Female"],"range":["#12239e","#118dff"]},"legend":{"orient":"none","direction":"horizontal","legendX":68,"legendY":236,"columnPadding":3}}}},
         {"data":{"values":[{"chart":"pie"}]},"mark":{"type":"point","filled":false,"size":4,"opacity":1,"strokeWidth":1,"color":"#b8b8b8","shape":"M-38,-58L-42,-64L-56,-64M11,69L13,76L26,76"},
          "encoding":{"x":{"field":"chart","type":"nominal","scale":{"type":"band","range":[93,173]},"axis":null},"y":{"field":"chart","type":"nominal","scale":{"type":"band","range":[88,168]},"axis":null}}},
         {"data":{"values":[{"gender":"Female","label":"85\n(36.8%)"}]},"mark":{"type":"text","fontSize":15,"align":"right","baseline":"middle","lineBreak":"\n","lineHeight":20},
          "encoding":{"text":{"field":"label"},"x":{"field":"gender","type":"nominal","scale":{"type":"point","range":[72,72]},"axis":null},"y":{"field":"gender","type":"nominal","scale":{"type":"point","range":[55,55]},"axis":null}}},
         {"data":{"values":[{"gender":"Male","label":"146\n(63.2%)"}]},"mark":{"type":"text","fontSize":15,"align":"left","baseline":"middle","lineBreak":"\n","lineHeight":20},
          "encoding":{"text":{"field":"label"},"x":{"field":"gender","type":"nominal","scale":{"type":"point","range":[164,164]},"axis":null},"y":{"field":"gender","type":"nominal","scale":{"type":"point","range":[195,195]},"axis":null}}},
         {"data":{"name":"watermark"},"mark":{"type":"text","clip":true,"font":"DejaVu Sans","baseline":"middle","color":"#c8c8c8","opacity":0.5},
          "encoding":{"text":{"field":"wm"},
           "x":{"field":"wm","type":"nominal","scale":{"type":"point","domain":["مستقل","mostaql.com"],"range":[197,212],"padding":0},"axis":null},
           "y":{"field":"wm","type":"nominal","scale":{"type":"point","domain":["مستقل","mostaql.com"],"range":[211,251],"padding":0},"axis":null},
           "size":{"field":"wm","type":"ordinal","legend":null,"scale":{"domain":["مستقل","mostaql.com"],"range":[42,25]}}}}
        ]},
       {"width":269,"height":269,"view":{"fill":"#ffffff","stroke":"#d3d5db","strokeWidth":2,"cornerRadius":10},
        "title":{"text":"Attrition Trend By Experience","dx":12,"offset":-28},
        "resolve":{"scale":{"x":"independent","y":"independent"}},
        "layer":[
         {"data":{"name":"experience"},"mark":{"type":"area","color":"#a0d1ff","opacity":1,"line":{"color":"#118dff","strokeWidth":4}},
          "encoding":{"x":{"field":"year","type":"quantitative","title":"TotalExperience(Years)","scale":{"domain":[0,40],"range":[23,248],"nice":false},"axis":{"orient":"bottom","offset":-47,"values":[0,20,40],"labelFontSize":14,"labelPadding":6,"titlePadding":6,"labelFlush":false,"grid":true,"gridDash":[1,3],"gridColor":"#aaaaaa"}},
           "y":{"field":"count","type":"quantitative","scale":{"domain":[0,40],"range":[222,41],"nice":false},"axis":null}}},
         {"data":{"name":"experience"},"transform":[{"filter":{"field":"year","oneOf":[10,27,40]}}],"mark":{"type":"text","baseline":"middle","dy":-15},
          "encoding":{"text":{"field":"count","type":"quantitative"},"x":{"field":"year","type":"quantitative","scale":{"domain":[0,40],"range":[23,248],"nice":false},"axis":null},"y":{"field":"count","type":"quantitative","scale":{"domain":[0,40],"range":[222,41],"nice":false},"axis":null}}},
         {"data":{"name":"experience"},"transform":[{"filter":{"field":"year","oneOf":[0,1]}}],"mark":{"type":"text","baseline":"middle","dy":16},
          "encoding":{"text":{"field":"count","type":"quantitative"},"x":{"field":"year","type":"quantitative","scale":{"domain":[0,40],"range":[23,248],"nice":false},"axis":null},"y":{"field":"count","type":"quantitative","scale":{"domain":[0,40],"range":[222,41],"nice":false},"axis":null}}},
         {"data":{"name":"watermark"},"mark":{"type":"text","clip":true,"font":"DejaVu Sans","baseline":"middle","color":"#c8c8c8","opacity":0.5},
          "encoding":{"text":{"field":"wm"},
           "x":{"field":"wm","type":"nominal","scale":{"type":"point","domain":["مستقل","mostaql.com"],"range":[-76,-61],"padding":0},"axis":null},
           "y":{"field":"wm","type":"nominal","scale":{"type":"point","domain":["مستقل","mostaql.com"],"range":[211,251],"padding":0},"axis":null},
           "size":{"field":"wm","type":"ordinal","legend":null,"scale":{"domain":["مستقل","mostaql.com"],"range":[42,25]}}}}
        ]}
      ],"spacing":7},
      {"width":381,"height":269,"view":{"fill":"#ffffff","stroke":"#d3d5db","strokeWidth":2,"cornerRadius":10},
       "title":{"text":"Department-Wise Employee Count","dx":10,"offset":-28},
       "data":{"values":[{"department":"Operations","count":512},{"department":"Administration","count":406},{"department":"Sales","count":207},{"department":"IT","count":166},{"department":"Marketing","count":64},{"department":"Human Resources","count":39},{"department":"Finance","count":23}]},
       "encoding":{"y":{"field":"department","type":"nominal","sort":null,"title":null,"scale":{"type":"band","range":[35,257],"paddingInner":0.09,"paddingOuter":0},"axis":{"orient":"left","offset":-10,"labelAlign":"left","labelPadding":0,"labelLimit":94}}},
       "layer":[
        {"mark":{"type":"bar","color":"#118dff"},"encoding":{"x":{"field":"count","type":"quantitative","stack":"center","scale":{"domain":[0,512],"range":[111,366],"nice":false},"axis":null}}},
        {"transform":[{"filter":"datum.count > 50"}],"mark":{"type":"text","baseline":"middle"},"encoding":{"text":{"field":"count","type":"quantitative"},"x":{"datum":256,"type":"quantitative"}}},
        {"transform":[{"filter":"datum.count <= 50"}],"mark":{"type":"text","baseline":"middle","dx":25},"encoding":{"text":{"field":"count","type":"quantitative"},"x":{"datum":256,"type":"quantitative"}}}
       ]}
     ],"spacing":1}
    ],"spacing":10}
   ],"spacing":5}
  ],"spacing":12}
 ],"spacing":13}
],"spacing":0
}
